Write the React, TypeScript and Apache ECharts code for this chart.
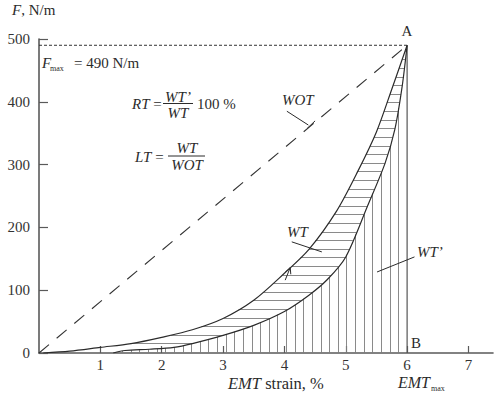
import React, { useEffect, useRef } from "react";
import * as echarts from "echarts";

// Loading (upper) and unloading (lower) branches of the force–strain loop: [EMT strain %, F N/m]
const loadingCurve: [number, number][] = [
  [0.07, 0], [0.5, 3], [1, 9], [1.5, 15], [2, 25], [2.5, 37], [3, 55], [3.5, 84],
  [4, 127], [4.4, 165], [4.85, 226], [5.2, 290], [5.5, 352], [5.75, 420], [6, 490],
];
const unloadingCurve: [number, number][] = [
  [1.21, 0], [1.4, 4], [1.8, 6], [2.2, 9], [2.5, 15], [3, 28], [3.5, 44], [4, 66],
  [4.4, 92], [4.7, 117], [5, 153], [5.35, 233], [5.64, 302], [5.8, 356], [5.92, 425], [6, 490],
];
const fMax = 490;
const emtMax = 6;
const xTicks = [1, 2, 3, 4, 5, 6, 7];
const yTicks = [0, 100, 200, 300, 400, 500];

// leader lines of the area labels, in data units
const wotLeader: [number, number][] = [[4.04, 385], [4.39, 363]];
const wotMark: [number, number][] = [[4.37, 357.5], [4.5, 369.6]];
const wtLeader: [number, number][] = [[4.12, 177], [4.61, 161]];
const wtPrimeLeader: [number, number][] = [[5.51, 129], [6.12, 153]];
const arrowTail: [number, number] = [4.013, 116];
const arrowTip: [number, number] = [4.095, 136];

// hatch spacing
const HATCH_X0 = 1.36;
const HATCH_DX = 0.1406;
const HATCH_F0 = 14.9;
const HATCH_DF = 13.7;

const SERIF = "Liberation Serif, Times New Roman, serif";
const INK = "#2b2b2b";

function valueAt(curve: [number, number][], x: number): number {
  for (let i = 1; i < curve.length; i++) {
    const [x0, y0] = curve[i - 1];
    const [x1, y1] = curve[i];
    if (x >= x0 && x <= x1) return y0 + ((y1 - y0) * (x - x0)) / (x1 - x0);
  }
  return NaN;
}

function strainAt(curve: [number, number][], f: number): number {
  for (let i = 1; i < curve.length; i++) {
    const [x0, y0] = curve[i - 1];
    const [x1, y1] = curve[i];
    if (f >= y0 && f <= y1 && y1 !== y0) return x0 + ((x1 - x0) * (f - y0)) / (y1 - y0);
  }
  return NaN;
}

function buildHatch() {
  const segs: { coords: [number, number][] }[] = [];
  // vertical hatch under the unloading branch (WT')
  for (let x = HATCH_X0; x < emtMax - 0.05; x += HATCH_DX) {
    const f = valueAt(unloadingCurve, x);
    if (f > 0) segs.push({ coords: [[x, 0], [x, f]] });
  }
  // horizontal hatch between the branches (WT - WT')
  for (let f = HATCH_F0; f < fMax - 3; f += HATCH_DF) {
    const xl = strainAt(loadingCurve, f);
    const xr = strainAt(unloadingCurve, f);
    if (xr > xl) segs.push({ coords: [[xl, f], [xr, f]] });
  }
  return segs;
}

type TxtOpt = { size?: number; italic?: boolean; align?: string };
function txt(x: number, y: number, text: string, o: TxtOpt = {}) {
  return {
    type: "text",
    x,
    y,
    silent: true,
    style: {
      text,
      fill: INK,
      fontFamily: SERIF,
      fontSize: o.size ?? 15,
      fontStyle: o.italic ? "italic" : "normal",
      align: o.align ?? "left",
      verticalAlign: "middle",
      textAlign: o.align ?? "left",
      textVerticalAlign: "middle",
    },
  };
}

function rich(x: number, y: number, text: string, size = 15) {
  return {
    type: "text",
    x,
    y,
    silent: true,
    style: {
      text,
      fill: INK,
      fontFamily: SERIF,
      fontSize: size,
      align: "left",
      verticalAlign: "middle",
      textAlign: "left",
      textVerticalAlign: "middle",
      rich: {
        i: { fontStyle: "italic", fontFamily: SERIF, fontSize: size, fill: INK },
        r: { fontStyle: "normal", fontFamily: SERIF, fontSize: size, fill: INK },
      },
    },
  };
}

function bar(x1: number, x2: number, y: number) {
  return {
    type: "line",
    silent: true,
    shape: { x1, y1: y, x2, y2: y },
    style: { stroke: INK, lineWidth: 1 },
  };
}

export default function App() {
  const ref = useRef<HTMLDivElement>(null);

  useEffect(() => {
    if (!ref.current) return;
    const chart = echarts.init(ref.current, null, { renderer: "svg" });
    const axisColor = "#5a5a5a";
    const labelStyle = { color: "#333", fontFamily: SERIF, fontSize: 15 };

    chart.setOption({
      animation: false,
      backgroundColor: "#fff",
      textStyle: { fontFamily: SERIF },
      grid: { left: 39, right: 1, top: 39, bottom: 42 },
      xAxis: {
        type: "value",
        min: 0,
        max: 7.4,
        interval: 1,
        axisLine: { lineStyle: { color: axisColor, width: 1.6 } },
        axisTick: { inside: true, length: 7, customValues: xTicks, lineStyle: { color: axisColor, width: 1.2 } },
        axisLabel: { ...labelStyle, margin: 4, customValues: xTicks },
        splitLine: { show: false },
      },
      yAxis: {
        type: "value",
        min: 0,
        max: 500,
        interval: 100,
        axisLine: { show: true, lineStyle: { color: axisColor, width: 1.6 } },
        axisTick: { show: true, inside: true, length: 9, customValues: yTicks, lineStyle: { color: axisColor, width: 1.2 } },
        axisLabel: { ...labelStyle, margin: 9, customValues: yTicks },
        splitLine: { show: false },
      },
      series: [
        {
          type: "lines",
          coordinateSystem: "cartesian2d",
          silent: true,
          z: 1,
          data: buildHatch(),
          lineStyle: { color: "#7d7d7d", width: 0.9, opacity: 1 },
        },
        {
          type: "line",
          data: [[emtMax, 0], [emtMax, fMax]],
          showSymbol: false,
          silent: true,
          z: 2,
          lineStyle: { color: "#555", width: 1.2 },
        },
        {
          type: "line",
          data: unloadingCurve,
          smooth: 0.3,
          showSymbol: false,
          silent: true,
          z: 3,
          lineStyle: { color: INK, width: 1.2 },
        },
        {
          type: "line",
          data: loadingCurve,
          smooth: 0.3,
          showSymbol: false,
          silent: true,
          z: 3,
          lineStyle: { color: INK, width: 1.2 },
        },
        {
          type: "line",
          data: [[0, 0], [emtMax, fMax]],
          showSymbol: false,
          silent: true,
          z: 3,
          lineStyle: { color: "#333", width: 1.1, type: [13, 10] },
        },
        {
          type: "line",
          data: [[0, fMax], [emtMax, fMax]],
          showSymbol: false,
          silent: true,
          z: 3,
          lineStyle: { color: "#333", width: 1, type: [3, 2] },
        },
        {
          type: "lines",
          coordinateSystem: "cartesian2d",
          silent: true,
          z: 4,
          data: [
            { coords: wotLeader },
            { coords: wotMark },
            { coords: wtLeader },
            { coords: wtPrimeLeader },
            { coords: [arrowTail, arrowTip] },
          ],
          lineStyle: { color: INK, width: 1, opacity: 1 },
        },
      ],
    });

    // open arrow head on the loading branch
    const tip = chart.convertToPixel({ gridIndex: 0 }, arrowTip) as number[];
    const tail = chart.convertToPixel({ gridIndex: 0 }, arrowTail) as number[];
    const dx = tip[0] - tail[0];
    const dy = tip[1] - tail[1];
    const len = Math.hypot(dx, dy) || 1;
    const ux = dx / len;
    const uy = dy / len;
    const nx = -uy;
    const ny = ux;
    const back = 6;
    const half = 3;
    const arrowHead = {
      type: "polyline",
      silent: true,
      z: 10,
      shape: {
        points: [
          [tip[0] - back * ux + half * nx, tip[1] - back * uy + half * ny],
          [tip[0], tip[1]],
          [tip[0] - back * ux - half * nx, tip[1] - back * uy - half * ny],
        ],
      },
      style: { stroke: INK, lineWidth: 1, fill: "none" },
    };

    chart.setOption({
      graphic: [
        rich(12, 10, "{i|F}{r|, N/m}"),
        // F_max = 490 N/m
        txt(42, 63, "F", { italic: true }),
        txt(50, 68, "max", { size: 8 }),
        txt(74, 63, "= 490 N/m"),
        // RT = WT'/WT 100 %
        rich(132, 103.5, "{i|RT}{r| =}"),
        txt(178, 96.5, "WT’", { italic: true, align: "center" }),
        bar(163, 193, 103.5),
        txt(178, 112.5, "WT", { italic: true, align: "center" }),
        txt(197, 103.5, "100 %"),
        // LT = WT/WOT
        rich(135, 157, "{i|LT}{r| =}"),
        txt(187, 148, "WT", { italic: true, align: "center" }),
        bar(168, 205, 156),
        txt(187, 165, "WOT", { italic: true, align: "center" }),
        // area and point labels
        txt(282, 100, "WOT", { italic: true }),
        txt(407, 31, "A", { align: "center" }),
        txt(287, 232, "WT", { italic: true }),
        txt(417, 252, "WT’", { italic: true }),
        txt(411, 343, "B"),
        // axis names
        rich(228, 383, "{i|EMT}{r| strain, %}", 16.5),
        txt(398, 382, "EMT", { italic: true, size: 16 }),
        txt(431, 388, "max", { size: 8 }),
        arrowHead,
      ],
    });

    return () => chart.dispose();
  }, []);

  return (
    <div
      ref={ref}
      style={{ position: "absolute", left: 0, top: 0, width: 494, height: 395, background: "#fff" }}
    />
  );
}
